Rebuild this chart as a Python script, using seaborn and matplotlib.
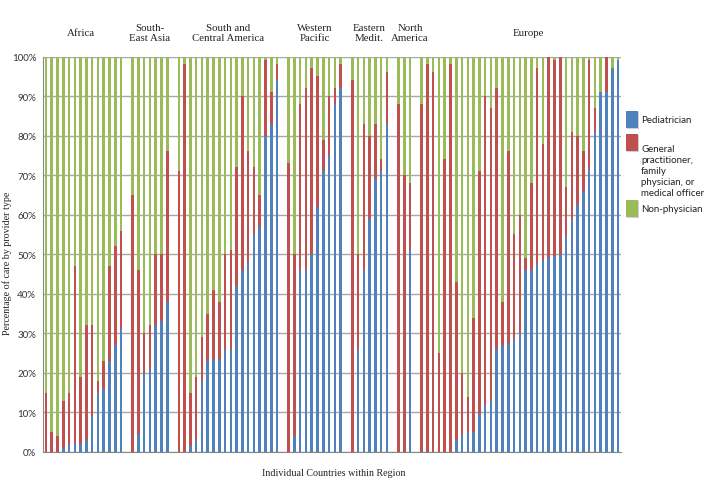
import numpy as np
import pandas as pd
import matplotlib
matplotlib.use("Agg")
import matplotlib.pyplot as plt
import matplotlib.transforms as mtransforms
from matplotlib.patches import Rectangle
import seaborn as sns

# --- data (percent of care, per country) ---
regions = ["Africa", "South-\nEast Asia", "South and\nCentral America", "Western\nPacific",
           "Eastern\nMedit.", "North\nAmerica", "Europe"]
region_sizes = [14, 7, 18, 10, 7, 3, 35]

# pediatrician share
pediatrician = [
    0, 0, 0, 1, 2, 2, 2, 3, 9, 15, 16, 23, 27, 31,                     # Africa
    0, 4.5, 20, 21, 32, 33, 38,                                         # SE Asia
    0, 0, 1.5, 3, 18, 23, 23.5, 23.5, 26, 26, 42, 46, 48, 55, 57, 80, 83, 94,  # S&C America
    0, 4, 46, 46, 50, 62, 71, 75, 88, 92,                               # W Pacific
    0, 26, 46, 59, 69, 71, 83,                                          # E Medit
    0, 0, 51,                                                           # N America
    0, 0, 0, 0, 0, 0, 3, 4.5, 5, 5, 9.5, 12, 13, 26, 27, 27.5, 28.5, 30,
    46, 46, 47.5, 48.5, 49, 49.5, 50, 54.5, 59, 62.5, 66, 71.5, 81, 91, 91, 97, 99,  # Europe
]
# pediatrician + general practitioner (top of the red segment)
physician_total = [
    15, 5, 4, 13, 15, 47, 19, 32, 32, 18, 23, 47, 52, 56,
    65, 46, 30, 32, 50, 50, 76,
    71, 98, 15, 19, 29, 35, 41, 38, 50, 51, 72, 90, 76, 72, 65, 99, 91, 98,
    73, 50, 88, 92, 97, 95, 79, 90, 92, 98,
    94, 50, 83, 80, 83, 74, 96,
    88, 70, 68,
    88, 98, 96, 25, 74, 98, 43, 20, 14, 34, 71, 90, 87, 92, 38, 76, 55, 60,
    49, 68, 97, 78, 100, 99, 100, 67, 81, 80, 76, 99, 87, 91, 100, 97, 99,
]

legend_labels = ["Pediatrician",
                 "General\npractitioner,\nfamily\nphysician, or\nmedical officer",
                 "Non-physician"]

BLUE, RED, GREEN = "#4F81BD", "#C0504D", "#9BBB59"

# --- slot positions: one empty slot between regions ---
slots, starts = [], []
pos = 0
for n in region_sizes:
    starts.append(pos)
    slots.extend(range(pos, pos + n))
    pos += n + 1
n_slots = pos - 1

df = pd.DataFrame({"slot": slots, "ped": pediatrician, "phys": physician_total})
df["all"] = 100

sns.set_style("white")
plt.rcParams["font.family"] = ["Lato", "DejaVu Sans"]

fig = plt.figure(figsize=(7.07, 4.81), dpi=100)
ax = fig.add_axes([43 / 707, 1 - 453 / 481, 578 / 707, 395.5 / 481])

# stacked look: full green bar, red up to physician total, blue for pediatrician
order = list(range(n_slots))
for col, c in [("all", GREEN), ("phys", RED), ("ped", BLUE)]:
    sns.barplot(data=df, x="slot", y=col, order=order, color=c, width=0.44,
                saturation=1, errorbar=None, ax=ax, zorder=2)
for p in ax.patches:
    p.set_antialiased(False)
    p.set_linewidth(0)

ax.set_xlim(-0.5, n_slots - 0.5)
ax.set_ylim(0, 100)
ax.set_yticks(np.arange(0, 101, 10))
ax.set_yticklabels([f"{v}%" for v in range(0, 101, 10)], fontsize=7, color="#333333")
ax.set_xticks(np.arange(-0.5, n_slots, 1))
ax.set_xticklabels([])
ax.tick_params(axis="both", length=3, width=0.8, color="#888888", direction="out", pad=2)
ax.set_xlabel("")
ax.set_ylabel("")
ax.set_axisbelow(True)
ax.yaxis.grid(True, color="#a8a8a8", linewidth=1.0)
for s in ["top", "right"]:
    ax.spines[s].set_visible(False)
for s in ["left", "bottom"]:
    ax.spines[s].set_color("#888888")
    ax.spines[s].set_linewidth(0.8)

# region labels above the bars
trans = mtransforms.blended_transform_factory(ax.transData, ax.transAxes)
label_shift = [-0.5, 0, 0, 0, 0, 1, 1.5]
for name, st, n, sh in zip(regions, starts, region_sizes, label_shift):
    ax.text(st + (n - 1) / 2 + sh, 1.06, name, transform=trans, ha="center", va="center",
            family="Liberation Serif", fontsize=7.8, linespacing=1.2, color="#222222")

fig.text(7 / 707, 1 - 263 / 481, "Percentage of care by provider type", rotation=90,
         ha="center", va="center", family="Liberation Serif", fontsize=7.2, color="#222222")
fig.text(334 / 707, 1 - 474 / 481, "Individual Countries within Region",
         ha="center", va="center", family="Liberation Serif", fontsize=7.2, color="#222222")

# legend drawn by hand to the right of the plot
W, H = 707, 481
boxes = [(112, 121), (135, 145), (201, 210)]
for (top, ty), lab, c in zip(boxes, legend_labels, [BLUE, RED, GREEN]):
    fig.add_artist(Rectangle((627 / W, 1 - (top + 18) / H), 12 / W, 17 / H,
                             transform=fig.transFigure, color="#d0d0d0", lw=0))
    fig.add_artist(Rectangle((626 / W, 1 - (top + 17) / H), 12 / W, 17 / H,
                             transform=fig.transFigure, color=c, lw=0))
    fig.text(641 / W, 1 - ty / H, lab, ha="left", va="top" if "\n" in lab else "center",
             fontsize=7, linespacing=1.3, color="#222222")

fig.savefig("out.png", dpi=100)
